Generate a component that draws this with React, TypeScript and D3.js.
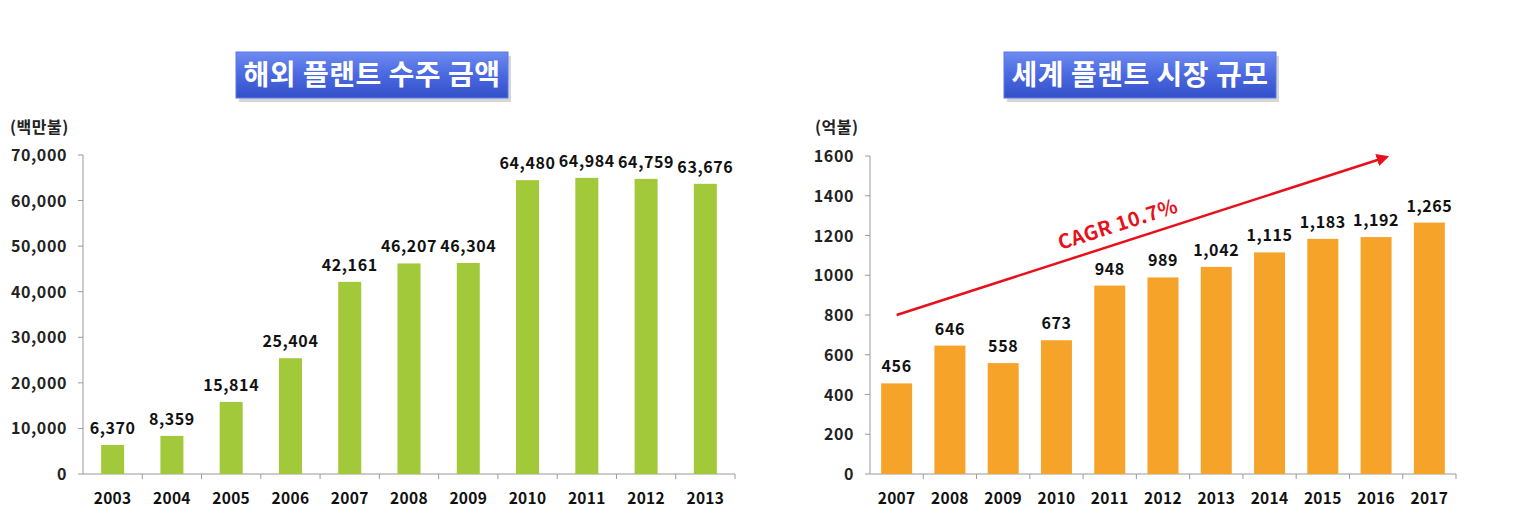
import React from "react";
import * as d3 from "d3";

const yearsL = ["2003","2004","2005","2006","2007","2008","2009","2010","2011","2012","2013"];
const valuesL = [6370, 8359, 15814, 25404, 42161, 46207, 46304, 64480, 64984, 64759, 63676];
const ticksL = [0, 10000, 20000, 30000, 40000, 50000, 60000, 70000];

const yearsR = ["2007","2008","2009","2010","2011","2012","2013","2014","2015","2016","2017"];
const valuesR = [456, 646, 558, 673, 948, 989, 1042, 1115, 1183, 1192, 1265];
const ticksR = [0, 200, 400, 600, 800, 1000, 1200, 1400, 1600];

const FONT = "'Noto Sans CJK KR', 'Noto Sans', sans-serif";
const fmt = d3.format(",");

function TitleBox({ x, y, w, h, text, id }) {
  return (
    <g>
      <defs>
        <linearGradient id={id} x1="0" y1="0" x2="0" y2="1">
          <stop offset="0" stopColor="#6d8cf0" />
          <stop offset="0.5" stopColor="#4a68e0" />
          <stop offset="1" stopColor="#3350c8" />
        </linearGradient>
      </defs>
      <rect x={x + 3} y={y + 4} width={w} height={h} fill="#bbbbbb" opacity={0.6} />
      <rect x={x} y={y} width={w} height={h} fill={`url(#${id})`} stroke="#5a78e8" />
      <text x={x + w / 2} y={y + h / 2 + 10} textAnchor="middle" fill="#ffffff" fontSize={28} fontWeight="bold" fontFamily={FONT} letterSpacing={0.5}>{text}</text>
    </g>
  );
}

function BarChart({ cats, vals, ticks, max, x0, x1, y0, y1, barW, color, labelFmt, tickFmt, unit, unitX }) {
  const x = d3.scaleBand().domain(cats).range([x0, x1]);
  const y = d3.scaleLinear().domain([0, max]).range([y0, y1]);
  return (
    <g fontFamily={FONT}>
      <text x={unitX} y={133} fontSize={16} fontWeight="bold" fill="#222" letterSpacing={0.5}>{unit}</text>
      <line x1={x0} x2={x0} y1={y(0)} y2={y(max)} stroke="#999" />
      {ticks.map((t) => (
        <g key={t}>
          <line x1={x0 - 5} x2={x0} y1={y(t)} y2={y(t)} stroke="#999" />
          <text x={x0 - 16} y={y(t) + 6} textAnchor="end" fontSize={16} fontWeight="bold" fill="#222" letterSpacing={0.6}>{tickFmt(t)}</text>
        </g>
      ))}
      <line x1={x0} x2={x1} y1={y(0)} y2={y(0)} stroke="#999" />
      {cats.map((c, i) => (
        <g key={c}>
          <line x1={x(c) + x.bandwidth()} x2={x(c) + x.bandwidth()} y1={y(0)} y2={y(0) + 5} stroke="#999" />
          <rect x={x(c) + x.bandwidth() / 2 - barW / 2} y={y(vals[i])} width={barW} height={y(0) - y(vals[i])} fill={color} />
          <text x={x(c) + x.bandwidth() / 2} y={y(vals[i]) - 11} textAnchor="middle" fontSize={16} fontWeight="bold" fill="#111" letterSpacing={0.6}>{labelFmt(vals[i])}</text>
          <text x={x(c) + x.bandwidth() / 2} y={y(0) + 30} textAnchor="middle" fontSize={15.5} fontWeight="bold" fill="#111" letterSpacing={0.3}>{c}</text>
        </g>
      ))}
    </g>
  );
}

export default function App() {
  const xR = d3.scaleBand().domain(yearsR).range([870, 1456]);
  const yR = d3.scaleLinear().domain([0, 1600]).range([474, 156]);
  const ax1 = xR("2007") + xR.bandwidth() / 2;
  const ay1 = yR(800);
  const ax2 = xR("2016") + xR.bandwidth() * 0.7;
  const ay2 = yR(1595);
  const ang = (Math.atan2(ay2 - ay1, ax2 - ax1) * 180) / Math.PI;
  return (
    <svg width={1515} height={525} style={{ display: "block", position: "absolute", left: 0, top: 0 }}>
      <rect width={1515} height={525} fill="#fff" />
      <defs>
        <marker id="arr" viewBox="0 0 10 10" refX="8" refY="5" markerWidth="5" markerHeight="5" orient="auto">
          <path d="M0,0 L10,5 L0,10 z" fill="#e8101a" />
        </marker>
      </defs>
      <TitleBox x={236} y={52} w={272} h={46} text="해외 플랜트 수주 금액" id="g1" />
      <TitleBox x={1004} y={52} w={272} h={46} text="세계 플랜트 시장 규모" id="g2" />
      <BarChart cats={yearsL} vals={valuesL} ticks={ticksL} max={70000} x0={83} x1={735} y0={474} y1={155}
        barW={23} color="#a2c93a" labelFmt={fmt} tickFmt={fmt} unit="(백만불)" unitX={10} />
      <BarChart cats={yearsR} vals={valuesR} ticks={ticksR} max={1600} x0={870} x1={1456} y0={474} y1={156}
        barW={31} color="#f6a32a" labelFmt={fmt} tickFmt={(t) => String(t)} unit="(억불)" unitX={815} />
      <line x1={ax1} y1={ay1} x2={ax2} y2={ay2} stroke="#e8101a" strokeWidth={2.5} markerEnd="url(#arr)" />
      <text transform={`translate(${1120},${231}) rotate(${ang})`} textAnchor="middle" fill="#e8101a" fontSize={20} fontWeight="bold" fontFamily={FONT} letterSpacing={0.5}>CAGR 10.7%</text>
    </svg>
  );
}
